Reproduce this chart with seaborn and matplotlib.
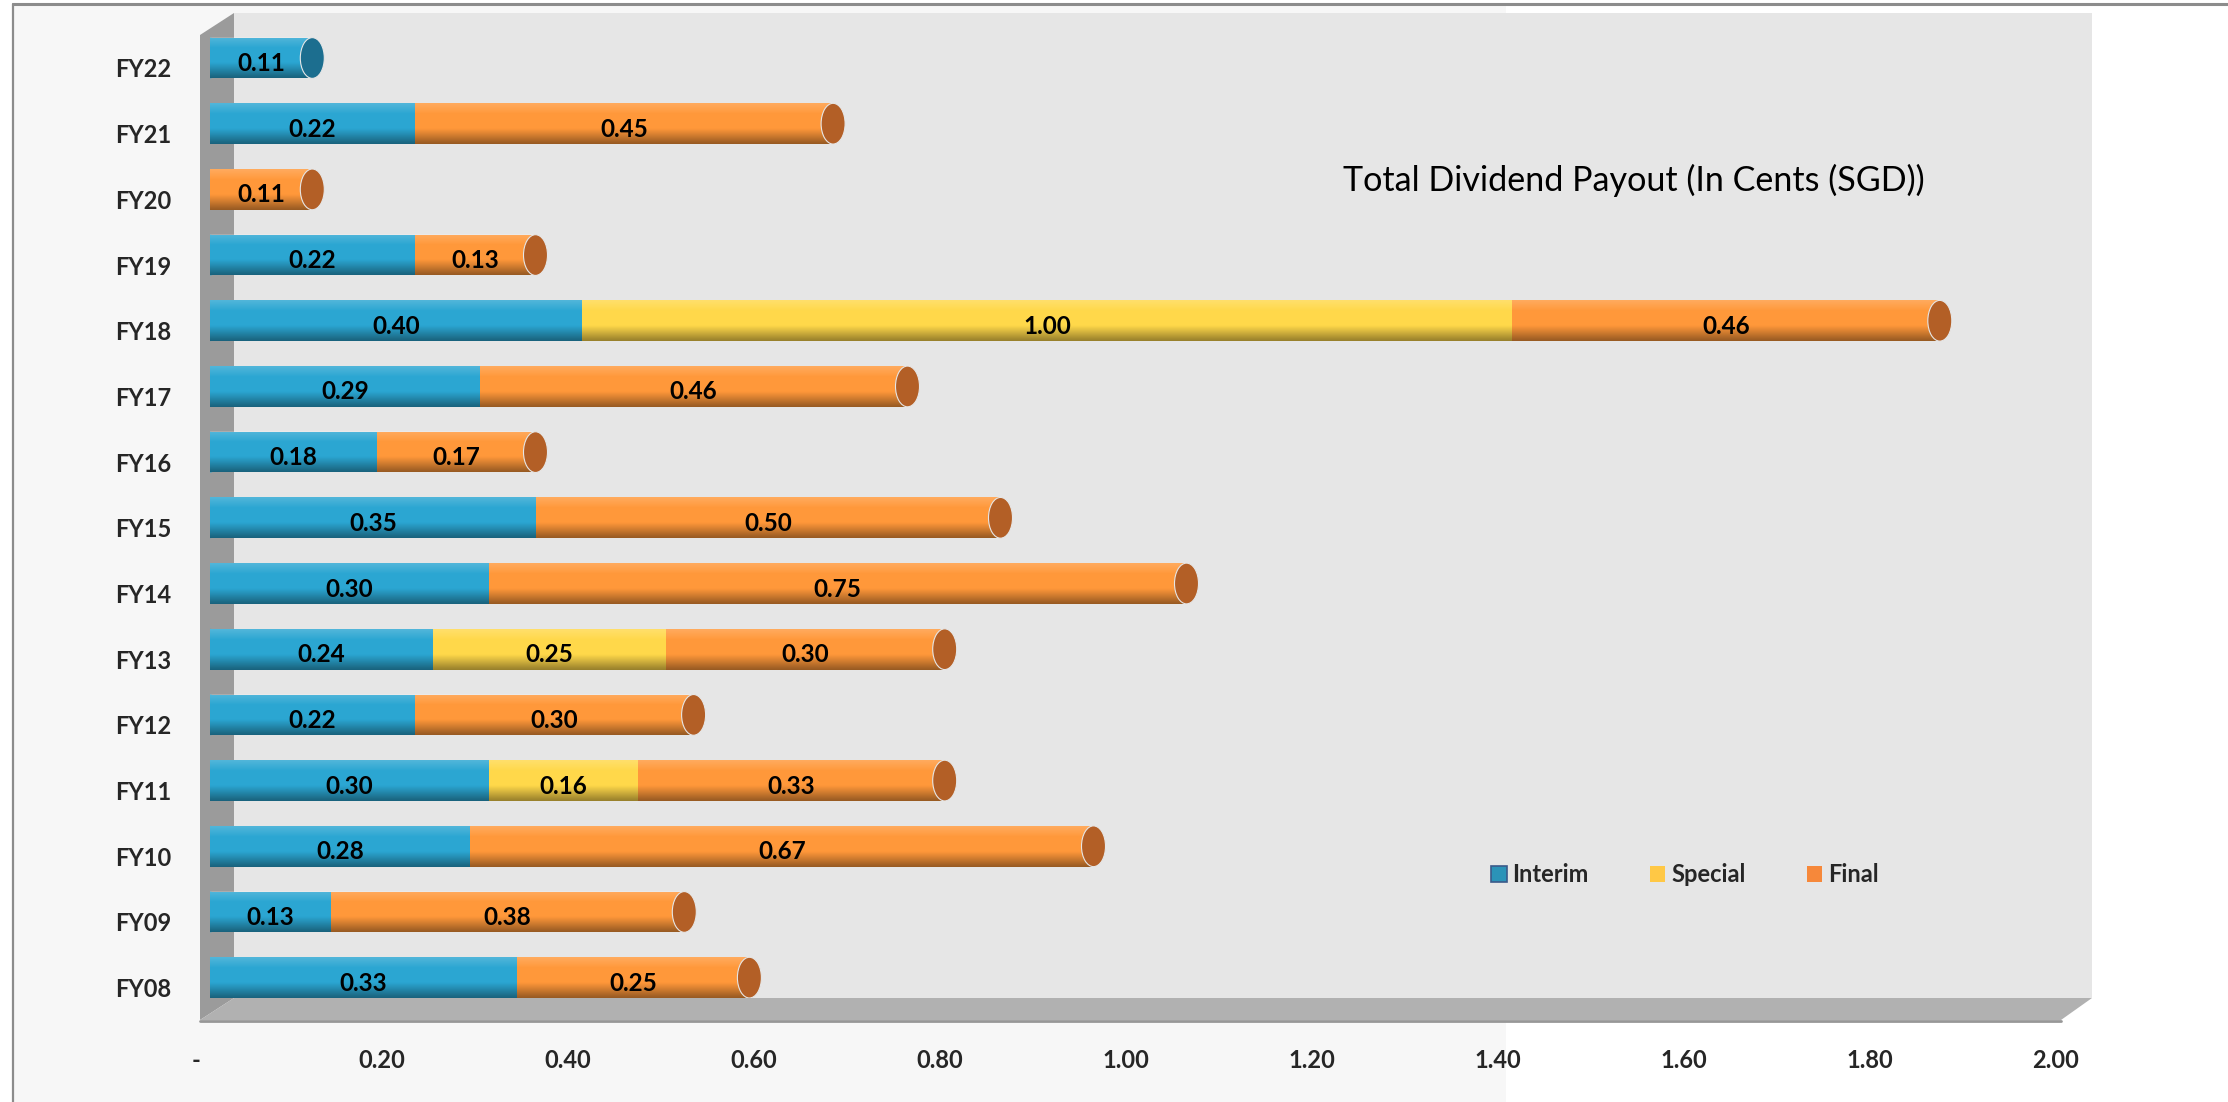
import numpy as np, pandas as pd
import matplotlib; matplotlib.use("Agg")
import matplotlib.pyplot as plt
from matplotlib.patches import Polygon, Ellipse, Patch
from matplotlib.colors import LinearSegmentedColormap
from matplotlib.lines import Line2D
import matplotlib.transforms as mtrans
import seaborn as sns

sns.set_theme(style="white")
plt.rcParams["font.family"] = ["Lato", "DejaVu Sans"]

# data (top to bottom as shown)
years = ["FY22","FY21","FY20","FY19","FY18","FY17","FY16","FY15","FY14","FY13","FY12","FY11","FY10","FY09","FY08"]
interim = [0.11,0.22,0.00,0.22,0.40,0.29,0.18,0.35,0.30,0.24,0.22,0.30,0.28,0.13,0.33]
special = [0.00,0.00,0.00,0.00,1.00,0.00,0.00,0.00,0.00,0.25,0.00,0.16,0.00,0.00,0.00]
final   = [0.00,0.45,0.11,0.13,0.46,0.46,0.17,0.50,0.75,0.30,0.30,0.33,0.67,0.38,0.25]
xticks = [0.0,0.2,0.4,0.6,0.8,1.0,1.2,1.4,1.6,1.8,2.0]
title = "Total Dividend Payout (In Cents (SGD))"

C_INT, C_SPE, C_FIN = "#2ba6d2", "#ffd84a", "#ff983a"
CAP = {"Interim":"#1c6e8f","Special":"#c9a12a","Final":"#b35f26"}

df = pd.DataFrame({"year":years,"Interim":interim,"Special":special,"Final":final})
df["is"] = df.Interim + df.Special
df["total"] = df["is"] + df.Final

W, H = 2228, 1102
fig = plt.figure(figsize=(W/100, H/100), dpi=100)
fig.patch.set_facecolor("white")

def fp(pts):
    return [(x/W, 1-y/H) for x, y in pts]

def poly(pts, c, z=-5):
    fig.patches.append(Polygon(fp(pts), closed=True, transform=fig.transFigure,
                               facecolor=c, edgecolor="none", zorder=z))

# panels: page, back wall, side wall, floor
poly([(13,4),(1506,4),(1506,1102),(13,1102)], "#f7f7f7", -10)
poly([(234,13),(2092,13),(2092,998),(234,998)], "#e6e6e6")
poly([(200,35),(234,13),(234,998),(200,1020)], "#9b9b9b")
poly([(200,1020),(234,998),(2092,998),(2061,1020)], "#b1b1b1")
fig.lines.append(Line2D([200/W,2061/W],[1-1021/H,1-1021/H],transform=fig.transFigure,color="#979797",lw=2,zorder=-4))
fig.lines.append(Line2D([13/W,13/W],[1-4/H,0],transform=fig.transFigure,color="#8c8c8c",lw=1.6,zorder=-4))
fig.lines.append(Line2D([13/W,1],[1-4/H,1-4/H],transform=fig.transFigure,color="#8c8c8c",lw=2.2,zorder=-4))

ax = fig.add_axes([210/W, 1-998/H, 1860/W, 985/H])
ax.patch.set_alpha(0)
bw = 0.62
order = years
kw = dict(y="year", order=order, orient="h", saturation=1, width=bw, ax=ax, zorder=3, linewidth=0)
sns.barplot(data=df, x="total", color=C_FIN, **kw)
sns.barplot(data=df, x="is", color=C_SPE, **kw)
sns.barplot(data=df, x="Interim", color=C_INT, **kw)

# cylinder shading
shade = LinearSegmentedColormap.from_list("shade", [(1,1,1,0.18),(1,1,1,0.0),(0,0,0,0.0),(0,0,0,0.4)])
grad = np.concatenate([np.linspace(0,0.35,10), np.linspace(0.4,0.6,10), np.linspace(0.65,1,14)]).reshape(-1,1)
capw = 24/930
fc = {"Interim":C_INT,"Special":C_SPE,"Final":C_FIN}
for i, r in df.iterrows():
    ax.imshow(grad, cmap=shade, vmin=0, vmax=1, aspect="auto", interpolation="bilinear",
              extent=[0, r.total, i+bw/2, i-bw/2], zorder=4)
    first = "Interim" if r.Interim > 0 else ("Special" if r.Special > 0 else "Final")
    last = "Final" if r.Final > 0 else ("Special" if r.Special > 0 else "Interim")
    ax.add_patch(Ellipse((0, i), capw, bw, facecolor=fc[first], edgecolor="none", zorder=2))
    ax.add_patch(Ellipse((r.total, i), capw, bw, facecolor=CAP[last], edgecolor="#e6e6e6", lw=0.8, zorder=5))
    starts = [0, r.Interim, r["is"]]
    for s, v in zip(starts, [r.Interim, r.Special, r.Final]):
        if v > 0:
            ax.annotate(f"{v:.2f}", (s+v/2, i), xytext=(0,-4), textcoords="offset points",
                        ha="center", va="center", fontsize=17.5, fontweight="bold", color="black", zorder=6)

ax.set_xlim(0, 2.0)
ax.set_ylim(14.31, -0.685)
ax.set_xticks(xticks)
ax.set_xticklabels(["-" if t == 0 else f"{t:.2f}" for t in xticks])
ax.set_xlabel(""); ax.set_ylabel("")
ax.tick_params(axis="x", length=0, pad=37, labelsize=17)
ax.tick_params(axis="y", length=0, pad=28, labelsize=17)
for lab in ax.get_xticklabels() + ax.get_yticklabels():
    lab.set_fontweight("bold")
for lab in ax.get_xticklabels():
    lab.set_transform(lab.get_transform() + mtrans.ScaledTranslation(-0.14, 0, fig.dpi_scale_trans))
for lab in ax.get_yticklabels():
    lab.set_transform(lab.get_transform() + mtrans.ScaledTranslation(0, -0.10, fig.dpi_scale_trans))
sns.despine(ax=ax, left=True, bottom=True)

handles = [Patch(facecolor="#2b93b8", edgecolor="#3b5a8a", lw=1.2),
           Patch(facecolor="#ffc845", edgecolor="none"),
           Patch(facecolor="#f6883a", edgecolor="none")]
ax.legend(handles, ["Interim","Special","Final"], loc="center", bbox_to_anchor=(1685/W, 1-875/H),
          bbox_transform=fig.transFigure, ncol=3, frameon=False, handlelength=0.64, handleheight=0.64,
          columnspacing=2.6, handletextpad=0.25, prop={"weight":"bold","size":17})

fig.text(1634/W, 1-180/H, title, ha="center", va="center", fontsize=24.6, color="black")

fig.savefig("out.png", dpi=100)
